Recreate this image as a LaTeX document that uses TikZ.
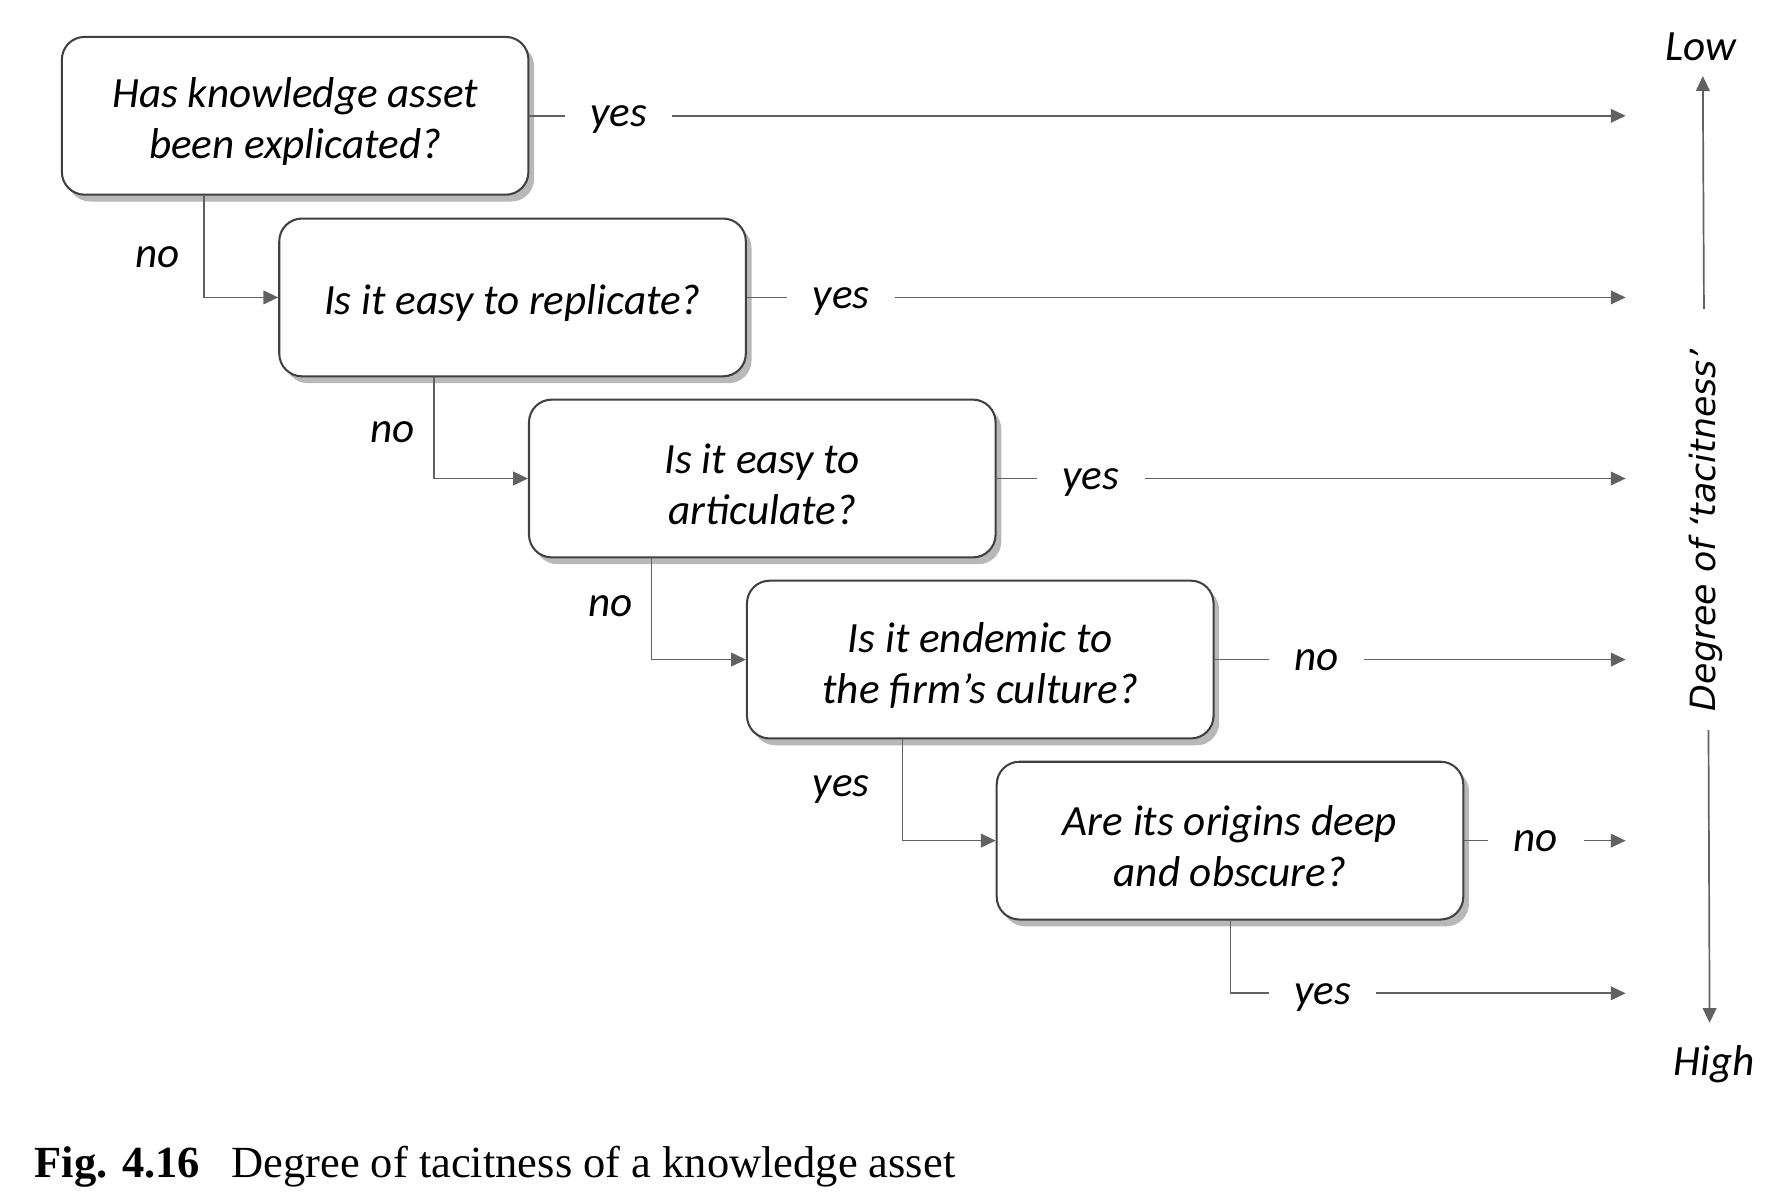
\documentclass[tikz,border=0pt]{standalone}
\usepackage{fontspec}
\setmainfont{Carlito}
\newfontfamily\degfont{DejaVu Sans}
\newfontfamily\capfont{Liberation Serif}
\usetikzlibrary{arrows.meta,shadows}
\begin{document}
\begin{tikzpicture}[x=0.5pt,y=-0.5pt,
  box/.style={draw=black!75, line width=0.9pt, fill=white, rounded corners=10pt,
    minimum width=205.5pt, minimum height=69.5pt, inner sep=0pt,
    drop shadow={shadow xshift=2.5pt, shadow yshift=-3pt, fill=black!55, opacity=0.5}},
  boxtxt/.style={align=center, inner sep=0pt, yshift=-2.5pt,
    font=\fontsize{19}{22.5}\selectfont\itshape},
  lbl/.style={font=\fontsize{19}{22.5}\selectfont\itshape, inner xsep=11pt, inner ysep=2pt,
    anchor=mid, yshift=-2.5pt},
  conn/.style={draw=black!62, line width=0.75pt},
  arr/.style={conn, -{Triangle[length=6.5pt,width=6pt]}},
]
\path[use as bounding box, fill=white] (0,0) rectangle (1568,1057);

% boxes
\node[box, label={[boxtxt]center:{Has knowledge asset\\been explicated?}}] (b1) at (260,102) {};
\node[box, label={[boxtxt]center:{Is it easy to replicate?}}] (b2) at (451.5,262) {};
\node[box, label={[boxtxt]center:{Is it easy to\\articulate?}}] (b3) at (671.5,421.5) {};
\node[box, label={[boxtxt]center:{Is it endemic to\\the firm’s culture?}}] (b4) at (863.5,581) {};
\node[box, label={[boxtxt]center:{Are its origins deep\\and obscure?}}] (b5) at (1083.5,740.5) {};

% right-hand labels
\node[lbl] (y1) at (545,102) {yes};
\node[lbl] (y2) at (741,262) {yes};
\node[lbl] (y3) at (961,421.5) {yes};
\node[lbl] (n4) at (1160,581) {no};
\node[lbl] (n5) at (1353,740.5) {no};
\node[lbl] (y6) at (1165,875) {yes};

% arrow ends
\coordinate (e1) at (1432,102);
\coordinate (e2) at (1432,262);
\coordinate (e3) at (1432,421.5);
\coordinate (e4) at (1432,581);
\coordinate (e5) at (1432,740.5);
\coordinate (e6) at (1432,875);

\draw[conn] (b1.east) -- (b1.east -| y1.west);
\draw[arr] (e1 -| y1.east) -- (e1);
\draw[conn] (b2.east) -- (b2.east -| y2.west);
\draw[arr] (e2 -| y2.east) -- (e2);
\draw[conn] (b3.east) -- (b3.east -| y3.west);
\draw[arr] (e3 -| y3.east) -- (e3);
\draw[conn] (b4.east) -- (b4.east -| n4.west);
\draw[arr] (e4 -| n4.east) -- (e4);
\draw[conn] (b5.east) -- (b5.east -| n5.west);
\draw[arr] (e5 -| n5.east) -- (e5);

% down connectors
\coordinate (d1) at (180,0);
\coordinate (d2) at (382,0);
\coordinate (d3) at (574,0);
\coordinate (d4) at (795,0);
\coordinate (d5) at (1084,0);
\draw[arr] (b1.south -| d1) |- (b2.west);
\draw[arr] (b2.south -| d2) |- (b3.west);
\draw[arr] (b3.south -| d3) |- (b4.west);
\draw[arr] (b4.south -| d4) |- (b5.west);
\draw[conn] (b5.south -| d5) |- (e6 -| y6.west);
\draw[arr] (e6 -| y6.east) -- (e6);

% left labels
\node[lbl] (l1) at (139,226) {no};
\node[lbl] (l2) at (346,380) {no};
\node[lbl] (l3) at (538,533) {no};
\node[lbl] (l4) at (741,692) {yes};

% axis
\coordinate (lowtip) at (1500,67);
\coordinate (a1) at (1501,272);
\coordinate (a2) at (1505,643);
\coordinate (hightip) at (1506,901);
\draw[arr] (a1) -- (lowtip);
\draw[arr] (a2) -- (hightip);
\node[rotate=90, font=\degfont\itshape\fontsize{15.3}{18}\selectfont] (deg) at (1503,467) {Degree of ‘tacitness’};
\node[anchor=base, yshift=-1.5pt, font=\fontsize{19}{22.5}\selectfont\itshape] (low) at (1498,50) {Low};
\node[anchor=base, yshift=-1.5pt, font=\fontsize{19}{22.5}\selectfont\itshape] (high) at (1510,944) {High};

% caption
\node[anchor=base west, inner sep=0pt, font=\capfont\fontsize{19.6}{24}\selectfont] (cap) at (30,1037)
  {{\bfseries Fig. 4.16}\hspace{0.7em}Degree of tacitness of a knowledge asset};
\end{tikzpicture}
\end{document}
